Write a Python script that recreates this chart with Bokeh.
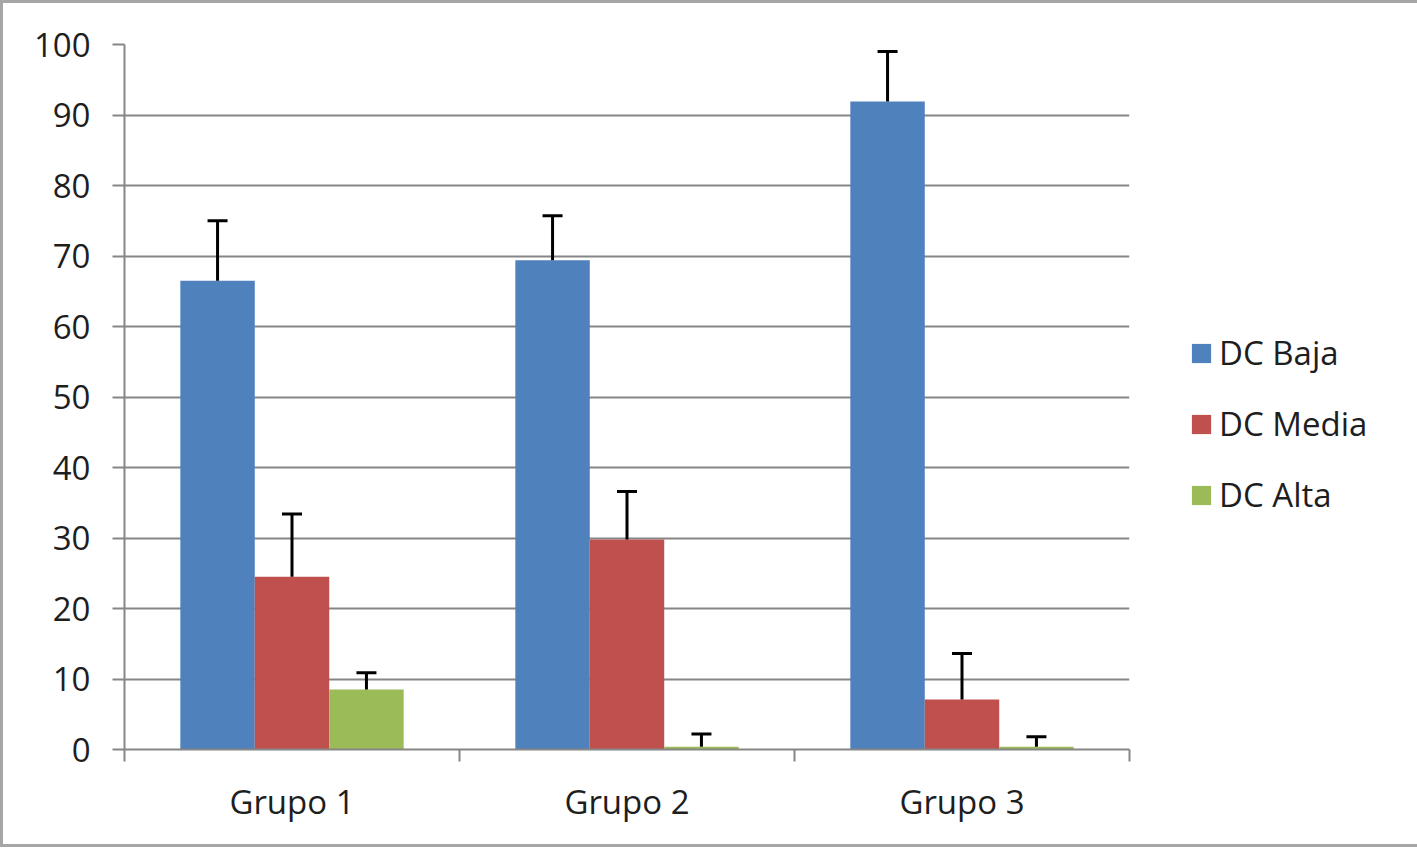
from bokeh.plotting import figure
from bokeh.models import (FactorRange, Range1d, LinearAxis, CategoricalAxis, FixedTicker,
                          ColumnDataSource, Whisker, TeeHead, Legend, LegendItem)
from bokeh.transform import dodge
from bokeh.embed import file_html
from bokeh.resources import INLINE

groups = ["Grupo 1", "Grupo 2", "Grupo 3"]
series = ["DC Baja", "DC Media", "DC Alta"]
baja = [66.5, 69.4, 91.9]
baja_hi = [75.0, 75.7, 99.0]
media = [24.5, 29.8, 7.1]
media_hi = [33.4, 36.6, 13.6]
alta = [8.5, 0.4, 0.4]
alta_hi = [10.9, 2.2, 1.8]
y_ticks = [0, 10, 20, 30, 40, 50, 60, 70, 80, 90, 100]
colors = ["#4F81BD", "#C0504D", "#9BBB59"]

FONT = "Open Sans"
FS = "33px"
TXT = "#1E1E1E"
GRID = "#868686"

src = ColumnDataSource(dict(group=groups, baja=baja, baja_hi=baja_hi,
                            media=media, media_hi=media_hi,
                            alta=alta, alta_hi=alta_hi))

p = figure(x_range=FactorRange(*groups, range_padding=0),
           y_range=Range1d(0, 100),
           frame_width=1005, frame_height=705,
           min_border_left=121, min_border_top=41, min_border_right=283, min_border_bottom=95,
           x_axis_location=None, y_axis_location=None,
           output_backend="svg", toolbar_location=None)
p.outline_line_color = None
p.background_fill_color = "white"
p.border_fill_color = "white"
p.xgrid.visible = False
p.styles = {"border": "3px solid #A6A6A6"}

yaxis = LinearAxis(ticker=FixedTicker(ticks=y_ticks), major_tick_out=12, major_tick_in=0,
                   minor_tick_out=0, minor_tick_in=0,
                   axis_line_color=GRID, axis_line_width=2,
                   major_tick_line_color=GRID, major_tick_line_width=2,
                   major_label_text_font=FONT, major_label_text_font_size=FS,
                   major_label_text_color=TXT, major_label_standoff=22)
p.add_layout(yaxis, "left")
p.ygrid.ticker = FixedTicker(ticks=y_ticks)
p.ygrid.grid_line_color = GRID
p.ygrid.grid_line_width = 2

# ticks at the category boundaries (synthetic coordinates 0..n of the factor range)
edge_ticks = list(range(len(groups) + 1))
edge_axis = LinearAxis(ticker=FixedTicker(ticks=edge_ticks),
                       major_tick_out=12, major_tick_in=0, minor_tick_out=0, minor_tick_in=0,
                       axis_line_color=GRID, axis_line_width=2,
                       major_tick_line_color=GRID, major_tick_line_width=2,
                       major_label_overrides={t: "" for t in edge_ticks},
                       major_label_standoff=0)
p.add_layout(edge_axis, "below")
cat_axis = CategoricalAxis(axis_line_color=None, major_tick_line_color=None,
                           minor_tick_line_color=None, major_tick_out=0, major_tick_in=0,
                           major_label_text_font=FONT, major_label_text_font_size=FS,
                           major_label_text_color=TXT, major_label_standoff=17)
p.add_layout(cat_axis, "below")

w = 1 / 4.5
offsets = [-w, 0, w]
vals = [("baja", "baja_hi"), ("media", "media_hi"), ("alta", "alta_hi")]
items = []
for (v, hi), off, col, name in zip(vals, offsets, colors, series):
    r = p.vbar(x=dodge("group", off, range=p.x_range), top=v, bottom=0, width=w, source=src,
               fill_color=col, line_color=None)
    items.append(LegendItem(label=name, renderers=[r]))
    wh = Whisker(source=src, base=dodge("group", off, range=p.x_range), lower=v, upper=hi,
                 dimension="height", line_color="black", line_width=3, level="overlay",
                 upper_head=TeeHead(size=20, line_width=3, line_color="black"), lower_head=None)
    p.add_layout(wh)

legend = Legend(items=items, location=(60, 232), orientation="vertical",
                glyph_width=24, glyph_height=24, label_height=22, spacing=26,
                padding=0, margin=0, border_line_color=None, background_fill_alpha=0,
                label_text_font=FONT, label_text_font_size=FS, label_text_color=TXT,
                label_standoff=6)
p.add_layout(legend, "right")

open("out.html", "w").write(file_html(p, INLINE))
